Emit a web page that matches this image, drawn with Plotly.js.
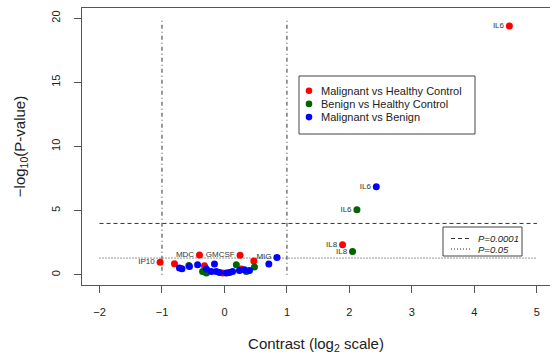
<!DOCTYPE html>
<html>
<head>
<meta charset="utf-8">
<script src="https://cdn.plot.ly/plotly-3.0.1.min.js"></script>
<style>html,body{margin:0;padding:0;background:#fff;}#chart{width:550px;height:354px;}</style>
</head>
<body>
<div id="chart"></div>
<script>
// Malignant vs Healthy Control
var redX = [-1.03, -0.80, -0.40, -0.32, -0.03, 0.25, 0.27, 0.47, 1.89, 4.56];
var redY = [0.98, 0.86, 1.54, 0.70, 0.13, 1.52, 0.44, 1.08, 2.33, 19.4];
var redLabels = ["IP10", "", "MDC", "", "", "GMCSF", "", "", "IL8", "IL6"];
// Benign vs Healthy Control
var greenX = [-0.57, -0.35, -0.29, 0.19, 0.35, 0.48, 2.05, 2.12];
var greenY = [0.73, 0.26, 0.13, 0.78, 0.26, 0.60, 1.81, 5.06];
var greenLabels = ["", "", "", "", "", "", "IL8", "IL6"];
// Malignant vs Benign
var blueX = [-0.72, -0.68, -0.56, -0.43, -0.29, -0.16, -0.21, -0.13, -0.08, 0.03, 0.08, 0.13, 0.24, 0.32, 0.40, 0.71, 0.84, 2.43];
var blueY = [0.52, 0.47, 0.65, 0.78, 0.44, 0.83, 0.26, 0.26, 0.18, 0.13, 0.18, 0.26, 0.34, 0.39, 0.34, 0.83, 1.35, 6.87];
var blueLabels = ["", "", "", "", "", "", "", "", "", "", "", "", "", "", "", "", "MIG", "IL6"];
var seriesNames = ["Malignant vs Healthy Control", "Benign vs Healthy Control", "Malignant vs Benign"];
var seriesColors = ["#ff0000", "#006400", "#0000ff"];
// thresholds
var foldCut = [-1, 1];
var pCuts = [0.0001, 0.05];
var pLabels = ["P=0.0001", "P=0.05"];
var lineX = [-2, 5];
var vLineY = [0, 20];

var FONT = "Liberation Sans, Arial, Helvetica, sans-serif";
var L = 82, R = 550, T = 8, B = 285;
function px(x) { return (x - L) / (R - L); }
function py(y) { return (B - y) / (B - T); }

var traces = [];
foldCut.forEach(function (fc) {
  traces.push({type: "scatter", mode: "lines", x: [fc, fc], y: vLineY, showlegend: false,
    line: {color: "#333", width: 1, dash: "1px,3px,4px,3px"}, hoverinfo: "skip"});
});
var dashes = ["4px,3px", "1px,2px"];
pCuts.forEach(function (p, i) {
  var v = -Math.log10(p);
  traces.push({type: "scatter", mode: "lines", x: lineX, y: [v, v], name: pLabels[i],
    showlegend: false, line: {color: "#333", width: 1, dash: dashes[i]}, hoverinfo: "skip"});
});
var series = [[redX, redY, redLabels], [greenX, greenY, greenLabels], [blueX, blueY, blueLabels]];
series.forEach(function (s, k) {
  traces.push({type: "scatter", mode: "markers", name: seriesNames[k], x: s[0], y: s[1],
    marker: {color: seriesColors[k], size: 7}, showlegend: false, cliponaxis: false});
});
series.forEach(function (s, k) {
  var lx = [], ly = [], lt = [];
  s[2].forEach(function (t, i) { if (t) { lx.push(s[0][i]); ly.push(s[1][i]); lt.push(t); } });
  traces.push({type: "scatter", mode: "markers+text", x: lx, y: ly, text: lt, showlegend: false,
    textposition: "middle left", textfont: {family: FONT, size: 8, color: "#333"},
    marker: {size: 7, opacity: 0}, cliponaxis: false, hoverinfo: "skip"});
});

// legends drawn as shapes + annotations
var shapes = [], annotations = [];
shapes.push({type: "rect", xref: "paper", yref: "paper", x0: px(299), x1: px(475), y0: py(76), y1: py(134),
  line: {color: "#444", width: 1}, fillcolor: "#fff", layer: "above"});
seriesNames.forEach(function (n, k) {
  var yc = 90.7 + k * 13.2;
  shapes.push({type: "circle", xref: "paper", yref: "paper", x0: px(305.7), x1: px(312.3),
    y0: py(yc - 3.3), y1: py(yc + 3.3), fillcolor: seriesColors[k], line: {width: 0}, layer: "above"});
  annotations.push({xref: "paper", yref: "paper", x: px(319), y: py(yc), xanchor: "left", yanchor: "middle",
    text: n, showarrow: false, font: {family: FONT, size: 11, color: "#222"}});
});
shapes.push({type: "rect", xref: "paper", yref: "paper", x0: px(443), x1: px(522), y0: py(227), y1: py(256),
  line: {color: "#444", width: 1}, fillcolor: "#fff", layer: "above"});
pLabels.forEach(function (n, k) {
  var yc = 238.5 + k * 10.5;
  shapes.push({type: "line", xref: "paper", yref: "paper", x0: px(451), x1: px(470), y0: py(yc), y1: py(yc),
    line: {color: "#333", width: 1, dash: dashes[k]}, layer: "above"});
  annotations.push({xref: "paper", yref: "paper", x: px(476), y: py(yc), xanchor: "left", yanchor: "middle",
    text: "<i>" + n + "</i>", showarrow: false, font: {family: FONT, size: 9.5, color: "#222"}});
});

var layout = {
  width: 550, height: 354,
  margin: {l: L, r: 550 - R, t: T, b: 354 - B},
  paper_bgcolor: "#fff", plot_bgcolor: "#fff",
  font: {family: FONT, color: "#222"},
  showlegend: false,
  shapes: shapes, annotations: annotations,
  xaxis: {
    range: [-2.28, 5.21], tickvals: [-2, -1, 0, 1, 2, 3, 4, 5],
    showgrid: false, zeroline: false, showline: true, mirror: true,
    linecolor: "#555", linewidth: 1, ticks: "outside", ticklen: 7, tickcolor: "#555",
    tickfont: {size: 11, color: "#222"}, ticklabelstandoff: 10,
    title: {text: "Contrast (log<sub>2</sub> scale)", font: {size: 15, color: "#222"}, standoff: 22}
  },
  yaxis: {
    range: [-0.8, 20.8], tickvals: [0, 5, 10, 15, 20], tickangle: -90,
    showgrid: false, zeroline: false, showline: true, mirror: false,
    linecolor: "#555", linewidth: 1, ticks: "outside", ticklen: 7, tickcolor: "#555",
    tickfont: {size: 11, color: "#222"}, ticklabelstandoff: 10,
    title: {text: "\u2212log<sub>10</sub>(P-value)", font: {size: 15, color: "#222"}, standoff: 20}
  }
};
Plotly.newPlot("chart", traces, layout, {displayModeBar: false, staticPlot: true});
</script>
</body>
</html>
